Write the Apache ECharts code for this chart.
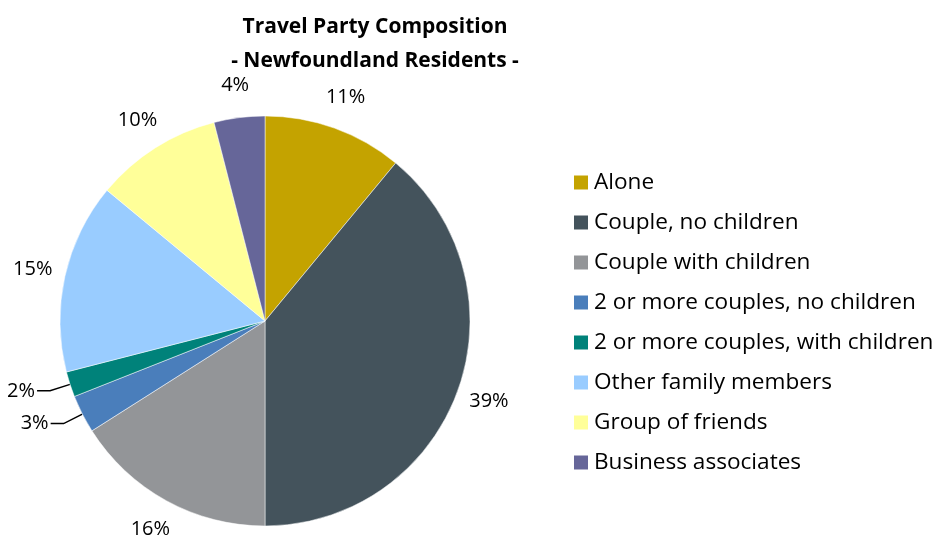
<!DOCTYPE html>
<html>
<head>
<meta charset="utf-8">
<script src="https://cdn.jsdelivr.net/npm/echarts@6/dist/echarts.min.js"></script>
<style>
  html, body { margin: 0; padding: 0; background: #fff; }
  #chart { width: 941px; height: 538px; }
</style>
</head>
<body>
<div id="chart"></div>
<script>
// Travel party composition shares (percent)
const categories = [
  'Alone',
  'Couple, no children',
  'Couple with children',
  '2 or more couples, no children',
  '2 or more couples, with children',
  'Other family members',
  'Group of friends',
  'Business associates'
];
const shares = [11, 39, 16, 3, 2, 15, 10, 4];
const colors = ['#C4A300', '#44535C', '#939598', '#4A7EBB', '#00827A', '#99CCFF', '#FFFF99', '#666699'];
// slices small enough to need a leader line to their label
const leaderLine = [false, false, false, true, true, false, false, false];

const FONT = '"Open Sans", sans-serif';
const CX = 265, CY = 321, R = 205;

const total = shares.reduce((a, b) => a + b, 0);
// mid angle of slice i in radians (clockwise from 12 o'clock, math orientation)
function midAngle(i) {
  let before = 0;
  for (let k = 0; k < i; k++) before += shares[k];
  return (90 - (before + shares[i] / 2) / total * 360) * Math.PI / 180;
}

const chart = echarts.init(document.getElementById('chart'), null, { renderer: 'canvas' });

chart.setOption({
  animation: false,
  title: {
    text: 'Travel Party Composition\n- Newfoundland Residents -',
    left: 370,
    top: 5,
    textAlign: 'center',
    textStyle: {
      fontFamily: FONT,
      fontWeight: 'bold',
      fontSize: 21,
      lineHeight: 34,
      color: '#000'
    }
  },
  legend: {
    orient: 'vertical',
    left: 567,
    top: 166,
    itemWidth: 16,
    itemHeight: 16,
    itemGap: 17,
    icon: 'rect',
    textStyle: { fontFamily: FONT, fontSize: 22.6, color: '#000' },
    data: categories
  },
  series: [{
    type: 'pie',
    center: [CX, CY],
    radius: R,
    startAngle: 90,
    clockwise: true,
    avoidLabelOverlap: false,
    itemStyle: { borderColor: '#fff', borderWidth: 0.5 },
    label: {
      show: true,
      position: 'outside',
      overflow: 'none',
      formatter: p => p.value + '%',
      fontFamily: FONT,
      fontSize: 20,
      color: '#000'
    },
    labelLine: {
      show: false,
      length: 14,
      length2: 8,
      lineStyle: { color: '#000', width: 1.5 }
    },
    labelLayout: function (p) {
      const i = p.dataIndex;
      const a = midAngle(i);
      const c = Math.cos(a), s = -Math.sin(a);
      if (leaderLine[i]) {
        const edge = [CX + R * c, CY + R * s];
        const elbow = [CX + (R + 21) * c, CY + (R + 21) * s];
        const end = [elbow[0] - 13, elbow[1]];
        return {
          x: end[0] - 2, y: end[1],
          align: 'right', verticalAlign: 'middle',
          labelLinePoints: [edge, elbow, end]
        };
      }
      return {
        x: CX + (R + 33) * c, y: CY + (R + 33) * s,
        align: 'center', verticalAlign: 'middle'
      };
    },
    emphasis: { disabled: true },
    data: categories.map((name, i) => ({
      name,
      value: shares[i],
      itemStyle: { color: colors[i] },
      labelLine: { show: leaderLine[i] }
    }))
  }]
});
</script>
</body>
</html>
